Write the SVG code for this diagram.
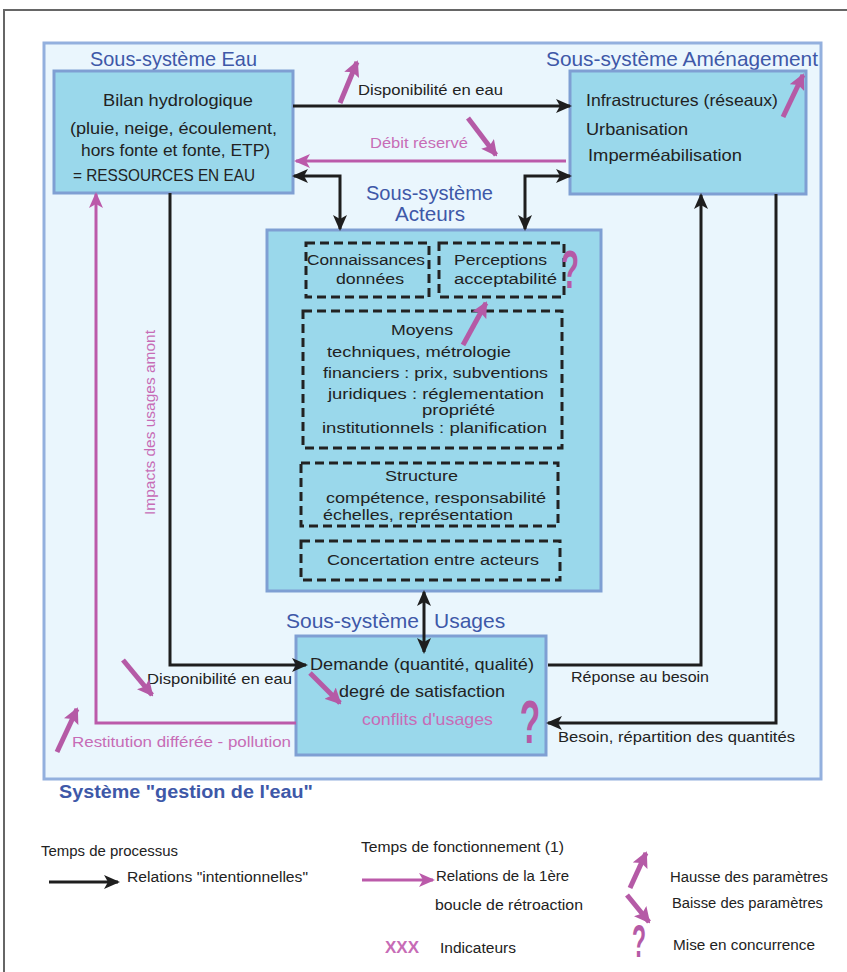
<svg xmlns="http://www.w3.org/2000/svg" width="847" height="972" viewBox="0 0 847 972">
<style>
text{font-family:"Liberation Sans","DejaVu Sans",sans-serif;fill:#222;}
.t{font-size:16.5px}
.s{font-size:15.5px}
.l{font-size:15px}
.g{font-size:14px}
.title{font-size:21px;fill:#3e58a8}
.pk{fill:#c76cb6}
.box{fill:#9ad8eb;stroke:#7f9fd3;stroke-width:3}
.dash{fill:none;stroke:#222;stroke-width:3;stroke-dasharray:9 5}
.blk{fill:none;stroke:#1e1e1e;stroke-width:3}
.pl{fill:none;stroke:#bb5aaa;stroke-width:3}
.ind{fill:none;stroke:#b55aa6;stroke-width:5}
.q{fill:#b55aa6;font-weight:bold}
</style>
<defs>
<marker id="ab" markerUnits="userSpaceOnUse" markerWidth="16" markerHeight="14" refX="14" refY="7" orient="auto-start-reverse"><path d="M0,0 L16,7 L0,14 L4,7 z" fill="#1e1e1e"/></marker>
<marker id="ap" markerUnits="userSpaceOnUse" markerWidth="16" markerHeight="14" refX="14" refY="7" orient="auto-start-reverse"><path d="M0,0 L16,7 L0,14 L4,7 z" fill="#bb5aaa"/></marker>
<marker id="ai" markerUnits="userSpaceOnUse" markerWidth="16" markerHeight="16" refX="14" refY="8" orient="auto"><path d="M0,0 L16,8 L0,16 L3,8 z" fill="#b55aa6"/></marker>
</defs>
<rect x="0" y="0" width="847" height="972" fill="#fff"/>
<path d="M4,972 L4,10 L847,10" fill="none" stroke="#666" stroke-width="2"/>
<g id="systeme">
<rect x="44" y="43" width="777" height="736" fill="#eaf6fd" stroke="#93b0de" stroke-width="3"/>
<text x="59" y="798" textLength="254" lengthAdjust="spacingAndGlyphs" style="font-size:18px;font-weight:bold;fill:#3e58a8">Système "gestion de l'eau"</text>
</g>
<g id="eau">
<text class="title" x="90" y="66" textLength="167" lengthAdjust="spacingAndGlyphs">Sous-système Eau</text>
<rect class="box" x="54" y="71" width="239" height="122"/>
<text class="t" x="103" y="106" textLength="150" lengthAdjust="spacingAndGlyphs">Bilan hydrologique</text>
<text class="t" x="70" y="134" textLength="207" lengthAdjust="spacingAndGlyphs">(pluie, neige, écoulement,</text>
<text class="t" x="81" y="156" textLength="189" lengthAdjust="spacingAndGlyphs">hors fonte et fonte, ETP)</text>
<text class="t" x="73" y="181" textLength="182" lengthAdjust="spacingAndGlyphs">= RESSOURCES EN EAU</text>
</g>
<g id="amenagement">
<text class="title" x="546" y="66" textLength="272" lengthAdjust="spacingAndGlyphs">Sous-système Aménagement</text>
<rect class="box" x="570" y="71" width="236" height="123"/>
<text class="t" x="586" y="106" textLength="192" lengthAdjust="spacingAndGlyphs">Infrastructures (réseaux)</text>
<text class="t" x="586" y="135" textLength="102" lengthAdjust="spacingAndGlyphs">Urbanisation</text>
<text class="t" x="588" y="161" textLength="154" lengthAdjust="spacingAndGlyphs">Imperméabilisation</text>
</g>
<g id="acteurs">
<text class="title" x="366" y="200" textLength="127" lengthAdjust="spacingAndGlyphs" style="font-size:19.5px">Sous-système</text>
<text class="title" x="395" y="221" textLength="70" lengthAdjust="spacingAndGlyphs" style="font-size:19.5px">Acteurs</text>
<rect class="box" x="267" y="230" width="334" height="361"/>
<rect class="dash" x="306" y="243" width="123" height="54"/>
<rect class="dash" x="439" y="243" width="125" height="54"/>
<rect class="dash" x="303" y="311" width="259" height="137"/>
<rect class="dash" x="301" y="463" width="257" height="63"/>
<rect class="dash" x="301" y="541" width="259" height="39"/>
<text class="s" x="307" y="265" textLength="118" lengthAdjust="spacingAndGlyphs">Connaissances</text>
<text class="s" x="336" y="284" textLength="68" lengthAdjust="spacingAndGlyphs">données</text>
<text class="s" x="454" y="265" textLength="93" lengthAdjust="spacingAndGlyphs">Perceptions</text>
<text class="s" x="454" y="284" textLength="103" lengthAdjust="spacingAndGlyphs">acceptabilité</text>
<text class="s" x="391" y="335" textLength="62" lengthAdjust="spacingAndGlyphs">Moyens</text>
<text class="s" x="327" y="357" textLength="184" lengthAdjust="spacingAndGlyphs">techniques, métrologie</text>
<text class="s" x="323" y="378" textLength="225" lengthAdjust="spacingAndGlyphs">financiers : prix, subventions</text>
<text class="s" x="328" y="399" textLength="216" lengthAdjust="spacingAndGlyphs">juridiques : réglementation</text>
<text class="s" x="422" y="415" textLength="73" lengthAdjust="spacingAndGlyphs">propriété</text>
<text class="s" x="322" y="433" textLength="225" lengthAdjust="spacingAndGlyphs">institutionnels : planification</text>
<text class="s" x="385" y="481" textLength="73" lengthAdjust="spacingAndGlyphs">Structure</text>
<text class="s" x="326" y="503" textLength="220" lengthAdjust="spacingAndGlyphs">compétence, responsabilité</text>
<text class="s" x="323" y="520" textLength="190" lengthAdjust="spacingAndGlyphs">échelles, représentation</text>
<text class="s" x="327" y="565" textLength="212" lengthAdjust="spacingAndGlyphs">Concertation entre acteurs</text>
<text class="q" transform="translate(570,288) scale(0.55,1)" text-anchor="middle" style="font-size:54px">?</text>
</g>
<g id="usages">
<text class="title" x="286" y="628">Sous-système</text>
<text class="title" x="434" y="628">Usages</text>
<rect class="box" x="296" y="636" width="250" height="119"/>
<text class="t" x="310" y="670" textLength="224" lengthAdjust="spacingAndGlyphs">Demande (quantité, qualité)</text>
<text class="t" x="339" y="697" textLength="166" lengthAdjust="spacingAndGlyphs">degré de satisfaction</text>
<text class="t pk" x="362" y="725" textLength="131" lengthAdjust="spacingAndGlyphs">conflits d'usages</text>
<text class="q" transform="translate(530,743) scale(0.55,1)" text-anchor="middle" style="font-size:61px">?</text>
</g>
<g id="connecteurs">
<line class="blk" x1="293" y1="106" x2="570" y2="106" marker-end="url(#ab)"/>
<text class="l" x="358" y="95" textLength="145" lengthAdjust="spacingAndGlyphs">Disponibilité en eau</text>
<line class="pl" x1="566" y1="161" x2="296" y2="161" marker-end="url(#ap)"/>
<text class="l pk" x="370" y="148" textLength="98" lengthAdjust="spacingAndGlyphs">Débit réservé</text>
<polyline class="blk" points="294,176 340,176 340,229" marker-start="url(#ab)" marker-end="url(#ab)"/>
<polyline class="blk" points="570,176 525,176 525,229" marker-start="url(#ab)" marker-end="url(#ab)"/>
<line class="blk" x1="424" y1="592" x2="424" y2="652" marker-start="url(#ab)" marker-end="url(#ab)"/>
<polyline class="blk" points="170,193 170,665 306,665" marker-end="url(#ab)"/>
<text class="l" x="147" y="684" textLength="145" lengthAdjust="spacingAndGlyphs">Disponibilité en eau</text>
<polyline class="pl" points="296,723 96,723 96,194" marker-end="url(#ap)"/>
<text class="l pk" x="72" y="747" textLength="219" lengthAdjust="spacingAndGlyphs">Restitution différée - pollution</text>
<text class="l pk" transform="translate(155,515) rotate(-90)" textLength="185" lengthAdjust="spacingAndGlyphs">Impacts des usages amont</text>
<polyline class="blk" points="548,665 701,665 701,195" marker-end="url(#ab)"/>
<text class="l" x="571" y="682" textLength="138" lengthAdjust="spacingAndGlyphs">Réponse au besoin</text>
<polyline class="blk" points="776,194 776,723 548,723" marker-end="url(#ab)"/>
<text class="l" x="558" y="742" textLength="237" lengthAdjust="spacingAndGlyphs">Besoin, répartition des quantités</text>
</g>
<g id="indicateurs">
<line class="ind" x1="340" y1="103" x2="357" y2="62" marker-end="url(#ai)"/>
<line class="ind" x1="468" y1="118" x2="496" y2="155" marker-end="url(#ai)"/>
<line class="ind" x1="783" y1="117" x2="803" y2="75" marker-end="url(#ai)"/>
<line class="ind" x1="463" y1="345" x2="486" y2="303" marker-end="url(#ai)"/>
<line class="ind" x1="123" y1="660" x2="152" y2="695" marker-end="url(#ai)"/>
<line class="ind" x1="310" y1="673" x2="340" y2="703" marker-end="url(#ai)"/>
<line class="ind" x1="57" y1="752" x2="77" y2="709" marker-end="url(#ai)"/>
</g>
<g id="legende">
<text class="g" x="41" y="856" textLength="137" lengthAdjust="spacingAndGlyphs">Temps de processus</text>
<line class="blk" x1="49" y1="882" x2="118" y2="882" marker-end="url(#ab)"/>
<text class="g" x="127" y="882" textLength="181" lengthAdjust="spacingAndGlyphs">Relations "intentionnelles"</text>
<text class="g" x="361" y="852" textLength="203" lengthAdjust="spacingAndGlyphs">Temps de fonctionnement (1)</text>
<line class="pl" x1="362" y1="880" x2="433" y2="880" marker-end="url(#ap)"/>
<text class="g" x="436" y="881" textLength="133" lengthAdjust="spacingAndGlyphs">Relations de la 1ère</text>
<text class="g" x="435" y="910" textLength="148" lengthAdjust="spacingAndGlyphs">boucle de rétroaction</text>
<text x="385" y="953" textLength="34" lengthAdjust="spacingAndGlyphs" style="font-size:16px;font-weight:bold;fill:#c76cb6">XXX</text>
<text class="g" x="440" y="953" textLength="76" lengthAdjust="spacingAndGlyphs">Indicateurs</text>
<line class="ind" x1="630" y1="888" x2="646" y2="853" marker-end="url(#ai)"/>
<text class="g" x="670" y="882" textLength="158" lengthAdjust="spacingAndGlyphs">Hausse des paramètres</text>
<line class="ind" x1="627" y1="895" x2="649" y2="922" marker-end="url(#ai)"/>
<text class="g" x="672" y="908" textLength="151" lengthAdjust="spacingAndGlyphs">Baisse des paramètres</text>
<text class="q" transform="translate(639,957) scale(0.5,1)" text-anchor="middle" style="font-size:46px">?</text>
<text class="g" x="673" y="950" textLength="142" lengthAdjust="spacingAndGlyphs">Mise en concurrence</text>
</g>
</svg>
